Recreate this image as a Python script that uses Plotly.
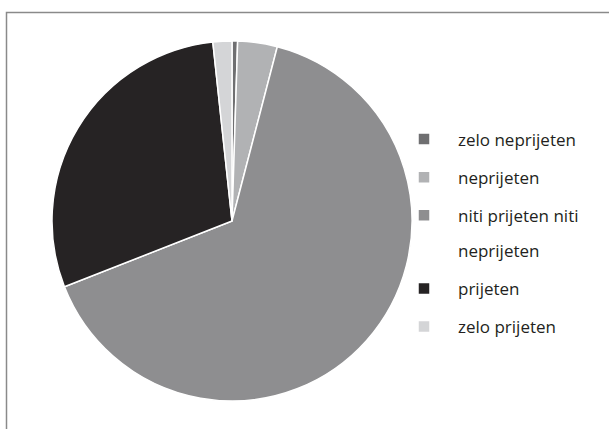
import plotly.graph_objects as go

labels = ["zelo neprijeten", "neprijeten", "niti prijeten niti<br>neprijeten", "prijeten", "zelo prijeten"]
values = [0.5, 3.55, 65.0, 29.25, 1.7]
colors = ["#6f6f71", "#b1b2b4", "#8e8e90", "#262324", "#d4d5d7"]

W, H = 609, 429
span_open = '<span style="font-size:17px;baseline-shift:4px">'
legend_labels = [span_open + l.replace("<br>", "</span><br>" + span_open) + "</span>" for l in labels]

fig = go.Figure(go.Pie(
    labels=legend_labels,
    values=values,
    sort=False,
    direction="clockwise",
    rotation=0,
    marker=dict(colors=colors, line=dict(color="white", width=1.5)),
    textinfo="none",
    hoverinfo="label+percent",
    domain=dict(x=[52 / W, 412 / W], y=[(H - 401) / H, (H - 41) / H]),
))

fig.update_layout(
    width=W, height=H,
    margin=dict(l=0, r=0, t=0, b=0),
    paper_bgcolor="white",
    plot_bgcolor="white",
    font=dict(family="Open Sans", color="#231f20"),
    showlegend=True,
    legend=dict(
        x=390 / W, xanchor="left",
        y=1 - 115 / H, yanchor="top",
        font=dict(size=27, family="Open Sans", color="#231f20"),
        itemwidth=58,
        valign="top",
        bgcolor="rgba(0,0,0,0)",
    ),
    shapes=[dict(
        type="rect", xref="paper", yref="paper",
        x0=6.5 / W, x1=1.05, y0=-0.05, y1=1 - 12.5 / H,
        line=dict(color="#8a8a8a", width=1.5),
        fillcolor="rgba(0,0,0,0)",
        layer="below",
    )],
)

fig.write_html("out.html", post_script="document.body.style.margin='0';",
               config={"displayModeBar": False})
